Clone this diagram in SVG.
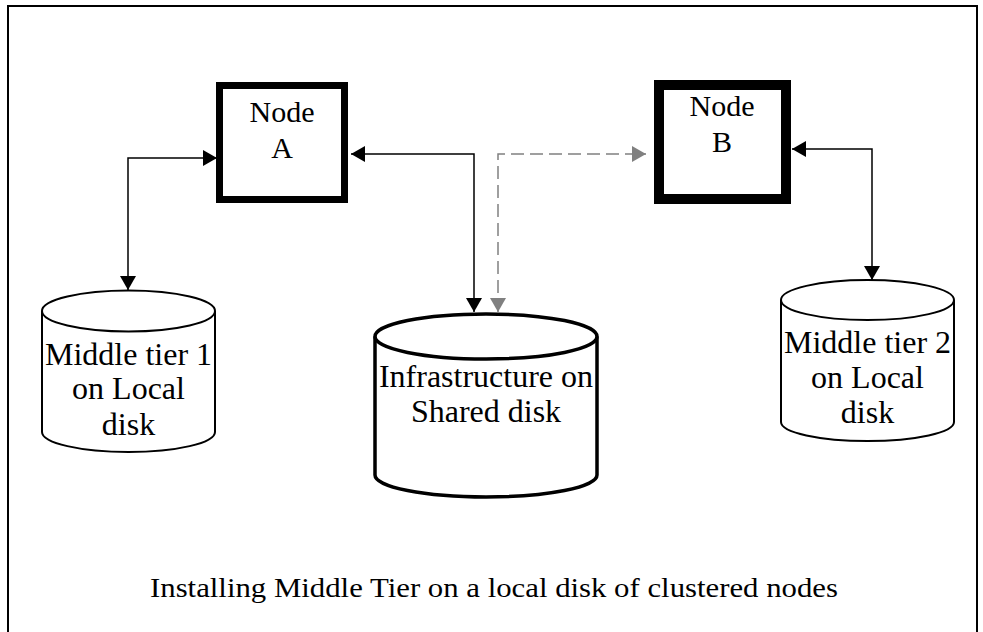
<svg xmlns="http://www.w3.org/2000/svg" width="983" height="632" viewBox="0 0 983 632">
<style>
text{fill:#000;text-anchor:middle}
.lbl{font-size:32px}
.nd{font-size:30px}
.cap{font-size:27px}
.c{fill:none;stroke:#000;stroke-width:1.5}
.g{fill:none;stroke:#808080;stroke-width:1.5;stroke-dasharray:13 6}
.cyl{fill:#fff;stroke:#000;stroke-width:2}
</style>
<defs>
<marker id="ab" viewBox="0 0 14 16" refX="14" refY="8" markerWidth="14" markerHeight="16" markerUnits="userSpaceOnUse" orient="auto-start-reverse"><path d="M0,0L14,8L0,16Z" fill="#000"/></marker>
<marker id="ag" viewBox="0 0 14 16" refX="14" refY="8" markerWidth="14" markerHeight="16" markerUnits="userSpaceOnUse" orient="auto-start-reverse"><path d="M0,0L14,8L0,16Z" fill="#808080"/></marker>
</defs>
<rect x="0" y="0" width="983" height="632" fill="#fff"/>
<rect id="frame" x="8" y="6" width="969" height="660" fill="none" stroke="#000" stroke-width="2"/>
<g id="connectors">
<path class="c" d="M217,158H128V290" marker-start="url(#ab)" marker-end="url(#ab)"/>
<path class="c" d="M351,154H474V312" marker-start="url(#ab)" marker-end="url(#ab)"/>
<path class="g" d="M498,312V154H646" marker-start="url(#ag)" marker-end="url(#ag)"/>
<path class="c" d="M792,149H872V280" marker-start="url(#ab)" marker-end="url(#ab)"/>
</g>
<g font-family="'Liberation Serif', Tinos, 'Times New Roman', 'DejaVu Serif', serif">
<g id="nodeA">
<rect x="219.5" y="85.5" width="125" height="114" fill="#fff" stroke="#000" stroke-width="7"/>
<text class="nd" x="282" y="122">Node</text>
<text class="nd" x="282" y="158">A</text>
</g>
<g id="nodeB">
<rect x="659" y="85" width="127" height="114" fill="#fff" stroke="#000" stroke-width="10"/>
<text class="nd" x="722" y="116">Node</text>
<text class="nd" x="722" y="152">B</text>
</g>
<g id="mid1">
<path class="cyl" d="M42,311V432A86.5,20 0 0 0 215,432V311A86.5,20.5 0 0 0 42,311Z"/>
<path class="cyl" fill="none" d="M42,311A86.5,20.5 0 0 0 215,311"/>
<text class="lbl" x="128.5" y="365">Middle tier 1</text>
<text class="lbl" x="128.5" y="399">on Local</text>
<text class="lbl" x="128.5" y="435">disk</text>
</g>
<g id="infra">
<path class="cyl" style="stroke-width:3.5" d="M375,336.5V475A111,22 0 0 0 597,475V336.5A111,22.5 0 0 0 375,336.5Z"/>
<path class="cyl" style="stroke-width:3.5;fill:none" d="M375,336.5A111,22.5 0 0 0 597,336.5"/>
<text class="lbl" x="486" y="387">Infrastructure on</text>
<text class="lbl" x="486" y="422">Shared disk</text>
</g>
<g id="mid2">
<path class="cyl" d="M781,300V422A86.5,19 0 0 0 954,422V300A86.5,20 0 0 0 781,300Z"/>
<path class="cyl" fill="none" d="M781,300A86.5,20 0 0 0 954,300"/>
<text class="lbl" x="867.5" y="353">Middle tier 2</text>
<text class="lbl" x="867.5" y="388">on Local</text>
<text class="lbl" x="867.5" y="423">disk</text>
</g>
<text id="caption" class="cap" x="494" y="597" textLength="688" lengthAdjust="spacingAndGlyphs">Installing Middle Tier on a local disk of clustered nodes</text>
</g>
</svg>
